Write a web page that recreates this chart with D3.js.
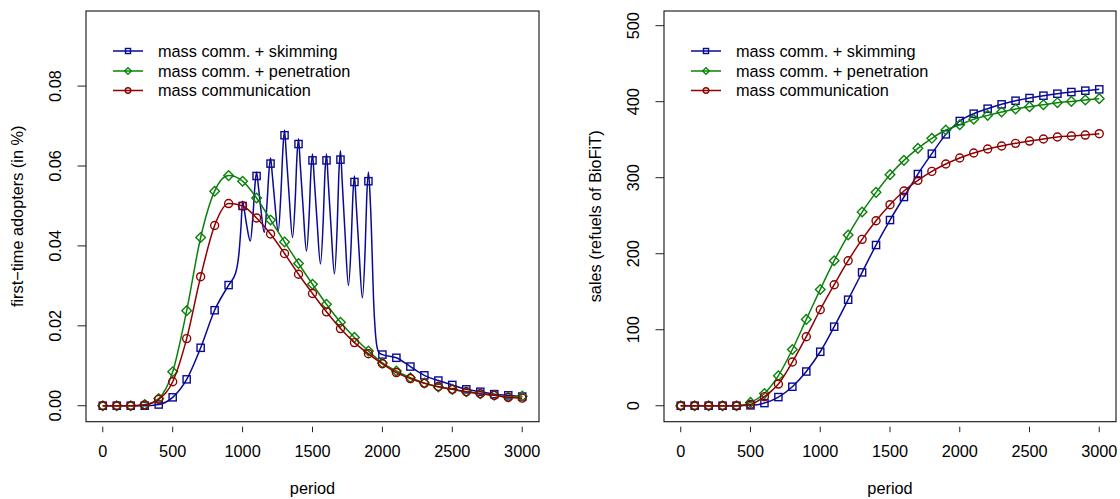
<!DOCTYPE html>
<html><head><meta charset="utf-8">
<script src="https://cdn.jsdelivr.net/npm/d3@7"></script>
<style>
body{margin:0;background:#fff}
svg{display:block}
text{font-family:"Liberation Sans",Arial,Helvetica,sans-serif;fill:#000}
</style>
</head><body>
<svg id="c" width="1120" height="499"></svg>
<script>
// ---------- data ----------
const periods = [0,100,200,300,400,500,600,700,800,900,1000,1100,1200,1300,1400,1500,1600,1700,1800,1900,2000,2100,2200,2300,2400,2500,2600,2700,2800,2900,3000];
const xTicks = [0,500,1000,1500,2000,2500,3000];
const adoptTicks = [0,0.02,0.04,0.06,0.08];
const salesTicks = [0,100,200,300,400,500];
const seriesNames = ["mass comm. + skimming","mass comm. + penetration","mass communication"];
const seriesColors = ["#0a0a96","#0a820a","#900000"];
const seriesShapes = ["square","diamond","circle"];

// first-time adopters (markers every 100 periods)
const adoptSkim = [0,0,0,0,0.0003,0.0021,0.0066,0.0145,0.0239,0.0302,0.0500,0.0575,0.0606,0.0677,0.0655,0.0614,0.0614,0.0616,0.0560,0.0562,0.0128,0.0120,0.0098,0.0076,0.0063,0.0052,0.0041,0.0035,0.0029,0.0026,0.0023];
const adoptPen  = [0,0,0,0.0003,0.0018,0.0085,0.0238,0.0421,0.0537,0.0576,0.0562,0.0520,0.0465,0.0410,0.0356,0.0304,0.0254,0.0209,0.0171,0.0137,0.0107,0.0087,0.0070,0.0057,0.0047,0.0041,0.0035,0.0030,0.0026,0.0022,0.0024];
const adoptMass = [0,0,0,0.0002,0.0016,0.0060,0.0168,0.0323,0.0451,0.0506,0.0500,0.0470,0.0430,0.0381,0.0329,0.0281,0.0235,0.0193,0.0158,0.0130,0.0105,0.0083,0.0068,0.0056,0.0048,0.0041,0.0035,0.0030,0.0026,0.0021,0.0019];

// skimming line between markers (oscillating price path)
const skimLinePeriod = [0,100,200,300,400,500,600,700,800,900,950,975,988,1000,1012,1030,1055,1075,1088,1100,1112,1130,1155,1175,1188,1200,1212,1230,1255,1275,1288,1300,1312,1332,1357,1377,1388,1400,1412,1432,1457,1477,1488,1500,1512,1532,1557,1577,1588,1600,1612,1632,1657,1677,1688,1700,1712,1732,1757,1777,1788,1800,1812,1832,1857,1877,1888,1900,1915,1940,1960,1978,2000,2100,2200,2300,2400,2500,2600,2700,2800,2900,3000];
const skimLineValue  = [0,0,0,0,0.0003,0.0021,0.0066,0.0145,0.0239,0.0302,0.0332,0.0385,0.0445,0.0512,0.0490,0.0450,0.0412,0.0480,0.0550,0.0585,0.0552,0.0494,0.0434,0.0508,0.0583,0.0620,0.0580,0.0510,0.0436,0.0538,0.0640,0.0690,0.0632,0.0530,0.0421,0.0520,0.0618,0.0668,0.0606,0.0500,0.0387,0.0484,0.0582,0.0630,0.0570,0.0465,0.0355,0.0465,0.0575,0.0630,0.0564,0.0450,0.0330,0.0453,0.0576,0.0638,0.0564,0.0436,0.0301,0.0410,0.0520,0.0575,0.0508,0.0392,0.0270,0.0396,0.0522,0.0585,0.0500,0.0240,0.0150,0.0132,0.0128,0.0120,0.0098,0.0076,0.0063,0.0052,0.0041,0.0035,0.0029,0.0026,0.0023];

// sales (refuels of BioFiT)
const salesSkim = [0,0,0,0,0,0.5,3.5,11.4,25,45,71,104,139.5,175.4,211.4,244.3,274.6,304.8,331.6,357,374.6,384.2,390.8,396.5,401.3,404.8,407.9,410.5,412.7,414.5,416.2];
const salesPen  = [0,0,0,0,0,4.4,16,39.5,74,113.6,153,190.8,224.6,254.8,280.7,304,322.8,338.6,351.8,362.7,369.7,376.8,382,386.4,390.4,393.4,396,398.7,400.4,402.2,404];
const salesMass = [0,0,0,0,0,1.8,12,28.5,57.5,90.8,126.3,159.2,190.8,218.9,243.4,264.5,282.5,296.5,308.3,318,325.9,332.5,337.7,341.7,345.2,348.2,350.9,353.5,354.8,356.1,357.9];

// ---------- drawing ----------
const svg = d3.select("#c");
const FONT = 16.3;

function marker(g, shape, cx, cy, color, s) {
  if (shape === "square") {
    const h = 3.6 * s;
    g.append("rect").attr("x", cx - h).attr("y", cy - h).attr("width", 2*h).attr("height", 2*h)
      .attr("fill", "none").attr("stroke", color).attr("stroke-width", 1.4);
  } else if (shape === "circle") {
    g.append("circle").attr("cx", cx).attr("cy", cy).attr("r", 4.0 * s)
      .attr("fill", "none").attr("stroke", color).attr("stroke-width", 1.4);
  } else {
    const h = 4.8 * s;
    g.append("path").attr("d", `M${cx},${cy-h}L${cx+h},${cy}L${cx},${cy+h}L${cx-h},${cy}Z`)
      .attr("fill", "none").attr("stroke", color).attr("stroke-width", 1.4);
  }
}

function panel(cfg) {
  const g = svg.append("g");
  const x = d3.scaleLinear().domain([-120, 3120]).range([cfg.left, cfg.right]);
  const y = d3.scaleLinear().domain(cfg.yDomain).range([cfg.bottom, cfg.top]);

  // series
  cfg.series.forEach((s, i) => {
    const line = d3.line().x(d => x(d[0])).y(d => y(d[1])).curve(d3.curveMonotoneX);
    const pts = s.linePts || periods.map((p, k) => [p, s.values[k]]);
    g.append("path").attr("d", line(pts)).attr("fill", "none")
      .attr("stroke", seriesColors[i]).attr("stroke-width", 1.5).attr("stroke-linejoin", "round");
    periods.forEach((p, k) => marker(g, seriesShapes[i], x(p), y(s.values[k]), seriesColors[i], 1));
  });

  // box
  g.append("rect").attr("x", cfg.left).attr("y", cfg.top)
    .attr("width", cfg.right - cfg.left).attr("height", cfg.bottom - cfg.top)
    .attr("fill", "none").attr("stroke", "#111").attr("stroke-width", 1.1);

  // x axis (ticks only, offset below box)
  xTicks.forEach(t => {
    g.append("line").attr("x1", x(t)).attr("x2", x(t)).attr("y1", cfg.bottom + 5).attr("y2", cfg.bottom + 10.5)
      .attr("stroke", "#222").attr("stroke-width", 1);
    g.append("text").attr("x", x(t)).attr("y", cfg.bottom + 35.6).attr("text-anchor", "middle")
      .attr("font-size", FONT).text(t);
  });
  g.append("text").attr("x", (cfg.left + cfg.right) / 2).attr("y", 494).attr("text-anchor", "middle")
    .attr("font-size", FONT).text("period");

  // y axis
  cfg.yTicks.forEach(t => {
    g.append("line").attr("x1", cfg.left - 8.5).attr("x2", cfg.left).attr("y1", y(t)).attr("y2", y(t))
      .attr("stroke", "#222").attr("stroke-width", 1);
    g.append("text").attr("transform", `translate(${cfg.left - 25},${y(t)}) rotate(-90)`)
      .attr("text-anchor", "middle").attr("font-size", FONT).text(cfg.yFmt(t));
  });
  g.append("text").attr("transform", `translate(${cfg.left - 63},${(cfg.top + cfg.bottom) / 2}) rotate(-90)`)
    .attr("text-anchor", "middle").attr("font-size", FONT).text(cfg.yTitle);

  // legend
  const rows = [51, 71, 90.5];
  seriesNames.forEach((n, i) => {
    const lx = cfg.left + 27;
    g.append("line").attr("x1", lx).attr("x2", lx + 30).attr("y1", rows[i]).attr("y2", rows[i])
      .attr("stroke", seriesColors[i]).attr("stroke-width", 1.5);
    marker(g, seriesShapes[i], lx + 15, rows[i], seriesColors[i], 0.7);
    g.append("text").attr("x", cfg.left + 72).attr("y", rows[i]).attr("dy", "0.36em")
      .attr("font-size", FONT).text(n);
  });
}

panel({
  left: 86, right: 539, top: 11, bottom: 421.7,
  yDomain: [-0.004, 0.0988],
  yTicks: adoptTicks, yFmt: d3.format(".2f"),
  yTitle: "first\u2212time adopters (in %)",
  series: [
    { values: adoptSkim, linePts: skimLinePeriod.map((p, k) => [p, skimLineValue[k]]) },
    { values: adoptPen },
    { values: adoptMass }
  ]
});

panel({
  left: 664, right: 1116, top: 11, bottom: 421.7,
  yDomain: [-21, 519.3],
  yTicks: salesTicks, yFmt: d3.format("d"),
  yTitle: "sales (refuels of BioFiT)",
  series: [
    { values: salesSkim },
    { values: salesPen },
    { values: salesMass }
  ]
});
</script>
</body></html>
